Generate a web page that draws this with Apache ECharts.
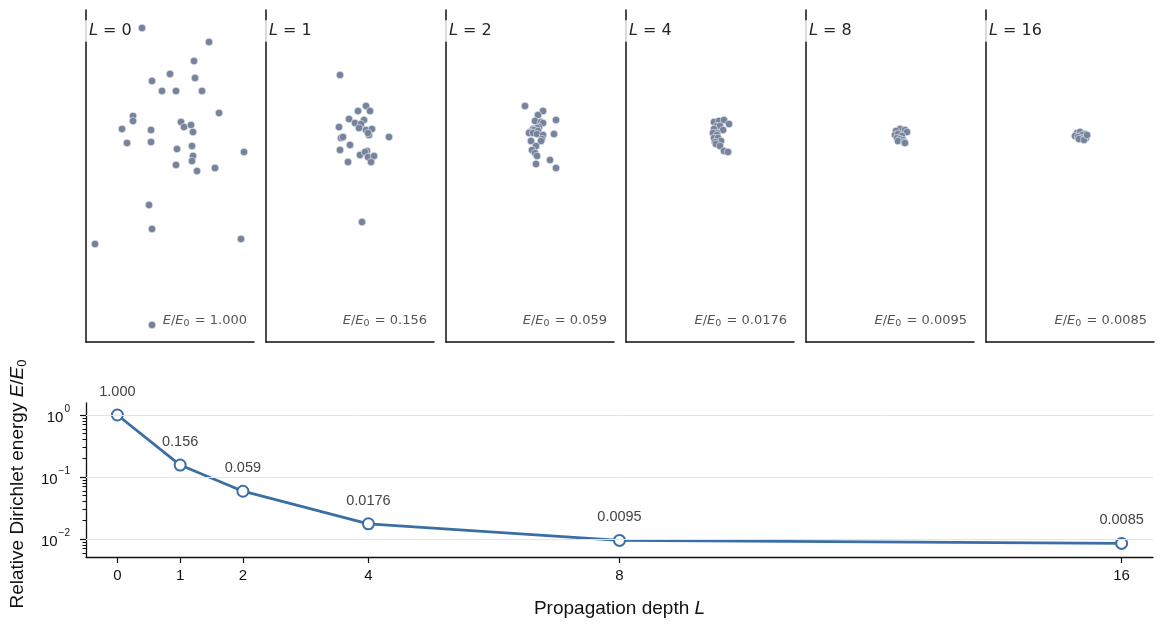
<!DOCTYPE html>
<html lang="en">
<head>
    <meta charset="UTF-8">
    <title>Dirichlet energy vs propagation depth</title>
    <script src="https://cdn.jsdelivr.net/npm/echarts@6/dist/echarts.min.js"></script>
    <style>
        html, body {
            margin: 0;
            padding: 0;
            background: #fff;
        }

        #main {
            width: 1164px;
            height: 627px;
        }
    </style>
</head>
<body>
<div id="main"></div>
<script type="application/javascript">
    // depths and relative energy
    var depths = [0, 1, 2, 4, 8, 16];
    var energy = [1.0, 0.156, 0.059, 0.0176, 0.0095, 0.0085];
    var energyText = ['1.000', '0.156', '0.059', '0.0176', '0.0095', '0.0085'];

    // tick labels of the energy plot
    var xTicks = [0, 1, 2, 4, 8, 16];
    var yMajorTicks = [0.01, 0.1, 1];
    var yMinorTicks = [0.006, 0.007, 0.008, 0.009,
        0.02, 0.03, 0.04, 0.05, 0.06, 0.07, 0.08, 0.09,
        0.2, 0.3, 0.4, 0.5, 0.6, 0.7, 0.8, 0.9];

    // node embeddings after L propagation steps
    var embedL0 = [[-2.8, 14.8], [3.9, 13.4], [2.4, 11.5], [0.0, 10.2], [-1.8, 9.5], [2.5, 9.8], [-0.8, 8.5],
        [0.6, 8.5], [3.2, 8.5], [4.9, 6.3], [-3.7, 6.0], [-3.7, 5.5], [-4.8, 4.7], [-1.9, 4.6], [1.1, 5.4],
        [1.4, 4.9], [2.1, 5.1], [2.3, 4.4], [-4.3, 3.3], [-1.9, 3.4], [0.7, 2.7], [2.2, 3.0], [2.3, 2.0],
        [2.2, 1.5], [0.6, 1.1], [2.7, 0.5], [4.5, 0.8], [7.4, 2.4], [-2.1, -2.9], [-1.8, -5.3], [-7.5, -6.8],
        [7.1, -6.3], [-1.8, -14.9]];
    var embedL1 = [[-1.0, 10.1], [1.6, 7.0], [0.8, 6.5], [2.0, 6.5], [-0.1, 5.7], [0.5, 5.3], [1.4, 5.6],
        [1.1, 5.2], [0.9, 4.8], [-1.1, 4.9], [1.6, 4.6], [2.2, 4.7], [1.9, 4.1], [1.8, 4.3], [-0.9, 3.8],
        [-0.7, 3.9], [3.9, 3.9], [0.0, 3.1], [-1.0, 2.6], [1.0, 2.1], [1.7, 2.5], [1.5, 2.4], [1.8, 1.9],
        [2.4, 2.0], [-0.2, 1.4], [2.1, 1.4], [1.2, -4.6]];
    var embedL2 = [[-0.5, 7.0], [1.3, 6.5], [0.8, 6.1], [2.6, 5.6], [0.5, 5.5], [1.1, 5.4], [1.3, 5.3],
        [0.9, 4.9], [0.7, 4.8], [0.3, 4.7], [0.4, 4.6], [0.8, 4.5], [0.0, 4.4], [-0.1, 4.3], [0.3, 4.3],
        [0.7, 4.2], [1.3, 4.1], [2.4, 4.2], [1.2, 3.7], [1.1, 3.5], [0.1, 3.5], [0.6, 3.0], [0.2, 2.6],
        [0.5, 2.3], [0.7, 2.0], [0.6, 1.2], [2.0, 1.6], [2.6, 0.8]];
    var embedL4 = [[0.4, 5.4], [0.9, 5.5], [1.4, 5.6], [1.9, 5.2], [0.7, 5.0], [1.0, 5.0], [0.4, 4.7],
        [1.3, 4.6], [0.7, 4.3], [0.3, 4.3], [0.7, 4.1], [0.4, 3.8], [0.8, 3.8], [1.1, 3.5], [0.5, 3.4],
        [0.6, 3.2], [1.0, 3.0], [1.4, 2.5], [1.8, 2.4]];
    var embedL8 = [[1.0, 4.7], [1.5, 4.6], [1.7, 4.4], [0.6, 4.5], [0.5, 4.1], [0.8, 4.2], [1.2, 4.0],
        [0.7, 3.8], [1.0, 3.7], [1.3, 3.6], [0.8, 3.5], [1.4, 3.4], [1.5, 3.3]];
    var embedL16 = [[0.7, 4.3], [1.0, 4.4], [1.5, 4.2], [0.5, 4.0], [1.2, 4.1], [0.8, 3.9], [1.3, 3.8],
        [1.6, 3.8], [0.9, 3.7], [1.4, 3.6], [1.7, 4.1]];
    var embeddings = [embedL0, embedL1, embedL2, embedL4, embedL8, embedL16];

    var myChart = echarts.init(document.getElementById('main'));

    var mathFont = 'DejaVu Sans';
    var sansFont = 'Liberation Sans';
    var panelLeft = 86, panelStep = 180, panelW = 168;

    var grids = [], xAxes = [], yAxes = [], series = [], titles = [];

    embeddings.forEach(function (pts, i) {
        var left = panelLeft + i * panelStep;
        grids.push({left: left, top: 10, width: panelW, height: 332, containLabel: false, outerBoundsMode: 'none'});
        xAxes.push({
            type: 'value', gridIndex: i, min: -8.4, max: 8.4,
            axisLine: {show: true, onZero: false, lineStyle: {color: '#111', width: 1.5}},
            axisTick: {show: false}, axisLabel: {show: false}, splitLine: {show: false}
        });
        yAxes.push({
            type: 'value', gridIndex: i, min: -16.6, max: 16.6,
            axisLine: {show: true, onZero: false, lineStyle: {color: '#111', width: 1.5}},
            axisTick: {show: false}, axisLabel: {show: false}, splitLine: {show: false}
        });
        series.push({
            type: 'scatter', xAxisIndex: i, yAxisIndex: i, data: pts, silent: true,
            symbol: 'circle', symbolSize: 7.5,
            itemStyle: {color: '#76839c', borderColor: '#ffffff', borderWidth: 0.5, opacity: 1}
        });
        // L = n
        titles.push({
            text: '{i|L} = ' + depths[i],
            left: left - 2, top: 20,
            padding: [3, 5, 3, 5],
            backgroundColor: 'rgba(255,255,255,0.8)',
            borderRadius: 3,
            textStyle: {
                fontFamily: mathFont, fontSize: 16, fontWeight: 'normal', color: '#262626',
                rich: {i: {fontFamily: mathFont, fontSize: 16, fontStyle: 'italic', color: '#262626'}}
            }
        });
        // E/E0 = ...
        titles.push({
            text: '{i|E}/{i|E}{s|0} = ' + energyText[i],
            right: 1164 - (left + panelW - 7), top: 313,
            padding: 0,
            textStyle: {
                fontFamily: mathFont, fontSize: 13, fontWeight: 'normal', color: '#555',
                rich: {
                    i: {fontFamily: mathFont, fontSize: 13, fontStyle: 'italic', color: '#555'},
                    s: {fontFamily: mathFont, fontSize: 9.5, color: '#555', padding: [6, 1, 0, 0]}
                }
            }
        });
    });

    // energy plot
    grids.push({left: 86, top: 403, width: 1067, height: 154, containLabel: false, outerBoundsMode: 'none'});
    xAxes.push({
        type: 'value', gridIndex: 6, min: -0.5, max: 16.5,
        name: 'Propagation depth {i|L}', nameLocation: 'middle', nameGap: 42,
        nameTextStyle: {
            fontFamily: sansFont, fontSize: 19, color: '#111',
            rich: {i: {fontFamily: sansFont, fontSize: 19, fontStyle: 'italic', color: '#111'}}
        },
        axisLine: {show: true, onZero: false, lineStyle: {color: '#111', width: 1.3}},
        axisTick: {show: true, customValues: xTicks, length: 6, lineStyle: {color: '#111', width: 1.2}},
        axisLabel: {customValues: xTicks, fontFamily: sansFont, fontSize: 15, color: '#111', margin: 11},
        splitLine: {show: false}
    });
    yAxes.push({
        type: 'log', logBase: 10, gridIndex: 6, min: 0.00513, max: 1.562, position: 'left',
        name: 'Relative Dirichlet energy {i|E}/{i|E}{s|0}', nameLocation: 'middle', nameGap: 57, nameRotate: 90,
        nameTextStyle: {
            fontFamily: sansFont, fontSize: 19, color: '#111', padding: [0, 8, 0, 0],
            rich: {
                i: {fontFamily: sansFont, fontSize: 19, fontStyle: 'italic', color: '#111'},
                s: {fontFamily: sansFont, fontSize: 13, color: '#111', padding: [9, 0, 0, 0]}
            }
        },
        axisLine: {show: true, onZero: false, lineStyle: {color: '#111', width: 1.3}},
        axisTick: {show: true, customValues: yMajorTicks, length: 6, lineStyle: {color: '#111', width: 1.2}},
        axisLabel: {
            customValues: yMajorTicks, margin: 16,
            formatter: function (v) {
                var p = Math.round(Math.log10(v));
                return '{b|10}{s|' + (p < 0 ? '\u2212' + (-p) : p) + '}';
            },
            rich: {
                b: {fontFamily: sansFont, fontSize: 15, color: '#111', padding: [6, 1, 0, 0], verticalAlign: 'bottom'},
                s: {fontFamily: sansFont, fontSize: 10, color: '#111', verticalAlign: 'top'}
            }
        },
        splitLine: {show: false}
    });
    yAxes.push({
        type: 'log', logBase: 10, gridIndex: 6, min: 0.00513, max: 1.562, position: 'left',
        axisLine: {show: false, onZero: false},
        axisTick: {show: true, customValues: yMinorTicks, length: 3.5, lineStyle: {color: '#111', width: 1}},
        axisLabel: {show: false},
        splitLine: {show: false}
    });

    // grid lines of the log axis
    series.push({
        type: 'line', xAxisIndex: 6, yAxisIndex: 6, data: [], z: 1, silent: true,
        markLine: {
            silent: true, symbol: 'none', animation: false,
            label: {show: false},
            lineStyle: {color: '#e4e4e4', width: 1, type: 'solid'},
            data: yMajorTicks.map(function (v) { return {yAxis: v}; })
        }
    });
    series.push({
        type: 'line', xAxisIndex: 6, yAxisIndex: 6, z: 3,
        data: depths.map(function (d, i) { return [d, energy[i]]; }),
        symbol: 'circle', symbolSize: 11, showAllSymbol: true,
        lineStyle: {color: '#3b6ea5', width: 2.8},
        itemStyle: {color: '#ffffff', borderColor: '#3b6ea5', borderWidth: 2},
        label: {
            show: true, position: 'top', distance: 9,
            fontFamily: sansFont, fontSize: 14.5, color: '#444',
            formatter: function (p) { return energyText[p.dataIndex]; }
        }
    });

    var option = {
        animation: false,
        title: titles,
        grid: grids,
        xAxis: xAxes,
        yAxis: yAxes,
        series: series
    };

    myChart.setOption(option);
</script>
</body>
</html>
